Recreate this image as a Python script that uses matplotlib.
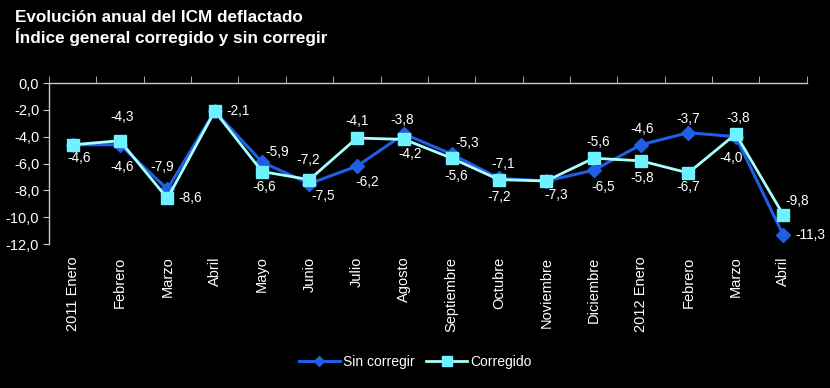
import matplotlib
matplotlib.use('Agg')
import matplotlib.pyplot as plt
import numpy as np

plt.rcParams['font.family'] = ['Liberation Sans', 'DejaVu Sans']

meses = ['2011 Enero', 'Febrero', 'Marzo', 'Abril', 'Mayo', 'Junio', 'Julio',
         'Agosto', 'Septiembre', 'Octubre', 'Noviembre', 'Diciembre',
         '2012 Enero', 'Febrero', 'Marzo', 'Abril']
sin_corregir = [-4.6, -4.6, -7.9, -2.1, -5.9, -7.5, -6.2, -3.8, -5.3, -7.1,
                -7.3, -6.5, -4.6, -3.7, -4.0, -11.3]
corregido = [-4.6, -4.3, -8.6, -2.1, -6.6, -7.2, -4.1, -4.2, -5.6, -7.2,
             -7.3, -5.6, -5.8, -6.7, -3.8, -9.8]
yticks = [0, -2, -4, -6, -8, -10, -12]

# offsets de etiquetas (pixeles), None = sin etiqueta
off_sin = [None, (2, -22), (-5, 22), None, (15, 10), (14, -12), (10, -16),
           (-2, 14), (16, 11), (4, 14), (10, -14), (10, -17), (1, 16),
           (0, 14), (-5, -21), (27, 0)]
off_corr = [(6, -13), (2, 24), (23, 0), (23, 0), (2, -15), (-1, 20), (0, 17),
            (6, -15), (5, -18), (0, -17), None, (5, 16), (1, -17), (0, -14),
            (2, 16), (14, 14)]

fig = plt.figure(figsize=(8.3, 3.88), dpi=100, facecolor='black')
ax = fig.add_axes([0.059, 0.371, 0.913, 0.415], facecolor='black')

x = np.arange(len(meses))
azul = '#1f5fe6'
cian = '#6ff2ff'
ax.plot(x, sin_corregir, color=azul, lw=2.2, marker='D', ms=7,
        mfc=azul, mec=azul, label='Sin corregir', zorder=3)
ax.plot(x, corregido, color='#a8ffff', lw=2.0, marker='s', ms=9,
        mfc=cian, mec=cian, label='Corregido', zorder=4)


def fmt(v):
    return ('%.1f' % v).replace('.', ',')


for serie, offs in ((sin_corregir, off_sin), (corregido, off_corr)):
    for i, v in enumerate(serie):
        if offs[i] is None:
            continue
        ax.annotate(fmt(v), (i, v), xytext=offs[i], textcoords='offset pixels',
                    ha='center', va='center', color='white', fontsize=9.8)

ax.set_xlim(-0.5, len(meses) - 0.5)
ax.set_ylim(-12, 0)
ax.set_yticks(yticks)
ax.set_yticklabels([fmt(v) for v in yticks], color='white', fontsize=10.5)
ax.set_xticks(x)
ax.set_xticklabels(meses, rotation=90, color='white', fontsize=10.5)
ax.set_xticks(np.arange(-0.5, len(meses), 1), minor=True)
ax.tick_params(axis='x', which='major', length=0, pad=9)
ax.tick_params(axis='x', which='minor', top=True, bottom=False, direction='out',
               length=5, color='#c8c8c8')
ax.tick_params(axis='y', direction='out', length=4, color='#c8c8c8', pad=3)

for s in ('bottom', 'right'):
    ax.spines[s].set_visible(False)
for s in ('top', 'left'):
    ax.spines[s].set_color('#c8c8c8')
    ax.spines[s].set_linewidth(1.0)

leg = fig.legend(loc='center', bbox_to_anchor=(0.5, 0.068), ncol=2, frameon=False,
                 fontsize=10, handlelength=3, columnspacing=0.8, handletextpad=0.2,
                 markerscale=0.75)
for t in leg.get_texts():
    t.set_color('white')

fig.text(0.018, 0.975, 'Evolución anual del ICM deflactado\nÍndice general corregido y sin corregir',
         color='white', fontsize=12.3, fontweight='bold', va='top', linespacing=1.25)

fig.savefig('out.png', dpi=100, facecolor='black')
